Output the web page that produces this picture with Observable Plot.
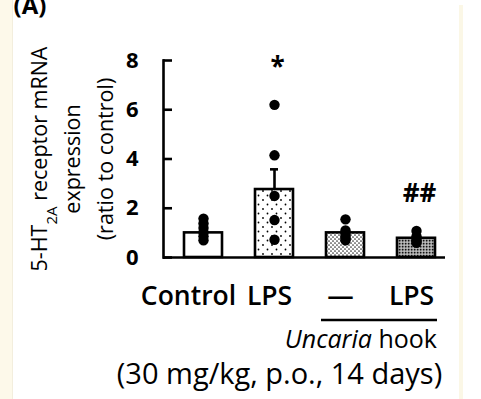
<!DOCTYPE html>
<html><head><meta charset="utf-8">
<script src="https://cdn.jsdelivr.net/npm/d3@7"></script>
<script src="https://cdn.jsdelivr.net/npm/@observablehq/plot@0.6"></script>
<style>
html,body{margin:0;padding:0;background:#fff;}
#wrap{position:relative;width:481px;height:399px;overflow:hidden;background:#fff;}
#wrap svg.plot{position:absolute;left:0;top:0;}
.strip-l{position:absolute;left:0;top:0;width:12px;height:399px;background:#fdf9ea;border-right:1px solid #f3eedd;}
.strip-r{position:absolute;left:459px;top:5px;width:4px;height:394px;background:#fbf7e6;}
</style>
</head><body>
<svg width="0" height="0" style="position:absolute">
  <defs>
    <pattern id="pat-lps" patternUnits="userSpaceOnUse" width="9" height="9">
      <rect width="9" height="9" fill="#fff"/>
      <circle cx="2" cy="2" r="0.9" fill="#000"/>
      <circle cx="6.5" cy="6.5" r="0.9" fill="#000"/>
    </pattern>
    <pattern id="pat-unc" patternUnits="userSpaceOnUse" width="4" height="4">
      <rect width="4" height="4" fill="#fff"/>
      <circle cx="1" cy="1" r="0.85" fill="#333"/>
      <circle cx="3" cy="3" r="0.85" fill="#333"/>
    </pattern>
    <pattern id="pat-unclps" patternUnits="userSpaceOnUse" width="3" height="3">
      <rect width="3" height="3" fill="#999"/>
      <rect x="0" y="0" width="1.4" height="1.4" fill="#111"/>
      <rect x="1.6" y="1.6" width="1" height="1" fill="#fff"/>
    </pattern>
  </defs>
</svg>
<div id="wrap"><div class="strip-l"></div><div class="strip-r"></div></div>
<script>
// ---- data ----
const categories = ["Control", "LPS", "Uncaria –", "Uncaria LPS"];
const tickLabels = ["Control", "LPS", "—", "LPS"];
const means = [1.0, 2.76, 1.0, 0.78];
const sems = [0.15, 0.82, 0.12, 0.08];
const controlPts = [1.58, 1.38, 1.2, 1.02, 0.86, 0.7];
const lpsPts = [6.2, 4.15, 2.5, 1.52, 0.72];
const uncariaPts = [1.55, 1.1, 0.95, 0.85, 0.76, 0.7];
const uncariaLpsPts = [1.08, 0.86, 0.75, 0.66, 0.6];
const sigMarks = ["", "*", "", "##"];
const yTicks = [0, 2, 4, 6, 8];
const titleText = "(A)";
const yLabelLines = ["5-HT2A receptor mRNA", "expression", "(ratio to control)"];
const groupLabel = ["Uncaria", " hook"];
const doseText = "(30 mg/kg, p.o., 14 days)";

// ---- tables built from the arrays ----
const bars = categories.map((c, i) => ({cat: c, mean: means[i], sem: sems[i], top: means[i] + sems[i]}));
const pointSets = [controlPts, lpsPts, uncariaPts, uncariaLpsPts];
const points = pointSets.flatMap((arr, i) => arr.map(v => ({cat: categories[i], v})));
const sig = categories.map((c, i) => ({cat: c, label: sigMarks[i], y: Math.max(...pointSets[i])})).filter(d => d.label);

const patternOf = {"Control": "white", "LPS": "url(#pat-lps)", "Uncaria –": "url(#pat-unc)", "Uncaria LPS": "url(#pat-unclps)"};
const labelOf = Object.fromEntries(categories.map((c, i) => [c, tickLabels[i]]));

const FONT = "'Open Sans', sans-serif";
const SW = 2.6;
const catStyle = {tickSize: 0, tickPadding: 29, tickFormat: d => labelOf[d], fontSize: 26.5, fontWeight: 600, fill: "black", label: null};

const plot = Plot.plot({
  width: 481,
  height: 399,
  marginLeft: 163,
  marginRight: 36,
  marginTop: 60,
  marginBottom: 142,
  style: {fontFamily: FONT, background: "transparent", overflow: "visible"},
  x: {domain: categories, paddingInner: 0.47, paddingOuter: 0.195, align: 0.68, axis: null},
  y: {domain: [0, 8], axis: null},
  color: {type: "identity"},
  marks: [
    Plot.barY(bars, {x: "cat", y: "mean", fill: d => patternOf[d.cat], stroke: "black", strokeWidth: SW}),
    Plot.ruleX(bars, {x: "cat", y1: "mean", y2: "top", stroke: "black", strokeWidth: SW}),
    Plot.tickY(bars, {x: "cat", y: "top", stroke: "black", strokeWidth: SW, insetLeft: 15, insetRight: 15}),
    Plot.dot(points, {x: "cat", y: "v", r: 5.2, fill: "black", stroke: "none"}),
    Plot.text(sig, {x: "cat", y: "y", text: "label", dy: -29, dx: 3, lineAnchor: "bottom", fontSize: 26, fontWeight: "bold", fill: "black"}),
    Plot.frame({anchor: "left", stroke: "black", strokeWidth: SW}),
    Plot.ruleY([0], {stroke: "black", strokeWidth: SW}),
    Plot.axisY({ticks: yTicks, tickSize: -9, tickPadding: 34, strokeWidth: SW, fontSize: 22, fontWeight: "bold", fill: "black", label: null}),
    Plot.axisX({ticks: categories.slice(0, 1), dx: -15, ...catStyle}),
    Plot.axisX({ticks: categories.slice(1), dx: -5, ...catStyle}),
    Plot.text([yLabelLines.join("\n")], {frameAnchor: "left", text: d => d, rotate: -90, dx: -94, textAnchor: "middle", lineAnchor: "middle", lineHeight: 1.55, fontSize: 21.5, fill: "black"}),
    Plot.text([titleText], {frameAnchor: "top-left", text: d => d, dx: -150, dy: -47, lineAnchor: "bottom", textAnchor: "start", fontSize: 24, fontWeight: "bold", fill: "black"}),
    Plot.text([doseText], {frameAnchor: "bottom", text: d => d, dx: -25, dy: 126, lineAnchor: "bottom", fontSize: 29, fill: "black"})
  ]
});
plot.classList.add("plot");
document.getElementById("wrap").appendChild(plot);

const svg = d3.select(plot);
// subscript in y label
svg.selectAll("tspan").each(function() {
  const t = d3.select(this);
  if (t.text() === yLabelLines[0]) {
    t.text(null);
    t.append("tspan").text("5-HT");
    t.append("tspan").attr("baseline-shift", "sub").attr("font-size", "0.7em").text("2A");
    t.append("tspan").text(" receptor mRNA");
  }
});
// group underline and group label using the plot's scales
const xs = plot.scale("x");
const ys = plot.scale("y");
const bw = xs.bandwidth;
const x0 = xs.apply(categories[2]) - 5;
const x1 = xs.apply(categories[3]) + bw + 2;
const yBase = ys.apply(0);
svg.append("line").attr("x1", x0).attr("x2", x1).attr("y1", yBase + 63).attr("y2", yBase + 63)
  .attr("stroke", "black").attr("stroke-width", 2.4);
const g = svg.append("text").attr("x", x1).attr("y", yBase + 91).attr("text-anchor", "end")
  .attr("font-family", FONT).attr("font-size", 25).attr("fill", "black");
g.append("tspan").attr("font-style", "italic").text(groupLabel[0]);
g.append("tspan").text(groupLabel[1]);
</script>
</body></html>
